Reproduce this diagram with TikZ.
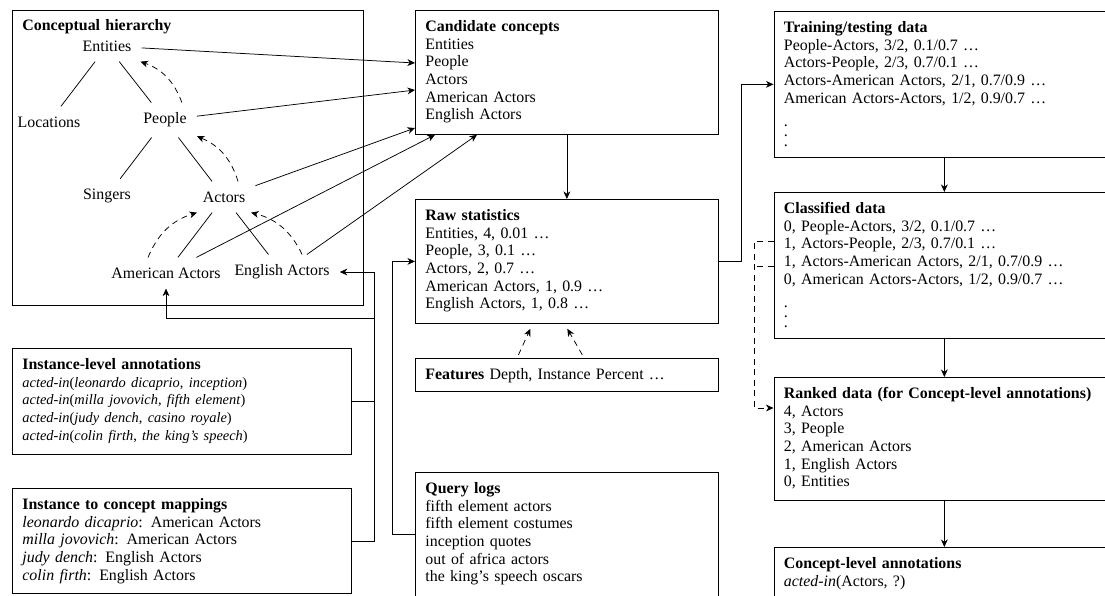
\documentclass[tikz,border=0pt]{standalone}
\usepackage{fontspec}
\setmainfont{Liberation Serif}
\usepackage{tikz}
\usetikzlibrary{arrows.meta,positioning,calc}
\tikzset{
  panel/.style={draw,anchor=north west,align=left,inner xsep=6.7pt,inner ysep=7pt,text height=7pt},
  midpanel/.style={panel,text width=188.6pt},
  leftpanel/.style={panel,text width=212.6pt},
  rightpanel/.style={panel,text width=213.9pt},
  concept/.style={inner sep=6.6pt},
  flow/.style={-{Stealth[length=5pt,width=4.5pt,inset=1.5pt]}},
  isaedge/.style={-{Stealth[length=5pt,width=4.5pt,inset=1.5pt]},dash pattern=on 4pt off 3pt},
  rankedge/.style={dash pattern=on 4pt off 3pt}
}
\newcommand{\vdotsrow}{\\[4pt].\\[-5.1pt].\\[-5.1pt].}

\begin{document}
\begin{tikzpicture}[x=0.6667pt,y=0.6667pt,line width=0.5pt,font=\fontsize{10.6pt}{11.8pt}\selectfont]
  \useasboundingbox (0,0) rectangle (1105,-595);
  % boxes
  \node[panel,text width=220.6pt,text depth=176pt] (hier) at (12,-9.5) {\textbf{Conceptual hierarchy}};
  \node[midpanel,text depth=61.7pt] (cand) at (415,-10) {\textbf{Candidate concepts}\\Entities\\People\\Actors\\American Actors\\English Actors};
  \node[midpanel,text depth=61.7pt] (raw) at (415,-199) {\textbf{Raw statistics}\\Entities, 4, 0.01 \ldots\\People, 3, 0.1 \ldots\\Actors, 2, 0.7 \ldots\\American Actors, 1, 0.9 \ldots\\English Actors, 1, 0.8 \ldots};
  \node[midpanel,text depth=1pt] (feat) at (415,-358) {\textbf{Features} Depth, Instance Percent \ldots};
  \node[midpanel,text depth=61.7pt] (query) at (415,-472) {\textbf{Query logs}\\fifth element actors\\fifth element costumes\\inception quotes\\out of africa actors\\the king's speech oscars};
  \node[leftpanel,text depth=49.7pt] (inst) at (12,-348) {\textbf{Instance-level annotations}\\\fontsize{9.6pt}{11.8pt}\selectfont
    \textit{acted-in}(\textit{leonardo dicaprio}, \textit{inception})\\
    \textit{acted-in}(\textit{milla jovovich}, \textit{fifth element})\\
    \textit{acted-in}(\textit{judy dench}, \textit{casino royale})\\
    \textit{acted-in}(\textit{colin firth}, \textit{the king's speech})};
  \node[leftpanel,text depth=49pt] (map) at (12,-488) {\textbf{Instance to concept mappings}\\
    \textit{leonardo dicaprio}: American Actors\\
    \textit{milla jovovich}: American Actors\\
    \textit{judy dench}: English Actors\\
    \textit{colin firth}: English Actors};
  \node[rightpanel,text depth=76.3pt] (train) at (773.5,-11) {\textbf{Training/testing data}\\People-Actors, 3/2, 0.1/0.7 \ldots\\Actors-People, 2/3, 0.7/0.1 \ldots\\Actors-American Actors, 2/1, 0.7/0.9 \ldots\\American Actors-Actors, 1/2, 0.9/0.7 \ldots\vdotsrow};
  \node[rightpanel,text depth=76.3pt] (class) at (773.5,-192) {\textbf{Classified data}\\0, People-Actors, 3/2, 0.1/0.7 \ldots\\1, Actors-People, 2/3, 0.7/0.1 \ldots\\1, Actors-American Actors, 2/1, 0.7/0.9 \ldots\\0, American Actors-Actors, 1/2, 0.9/0.7 \ldots\vdotsrow};
  \node[rightpanel,text depth=61pt] (rank) at (773.5,-377) {\textbf{Ranked data (for Concept-level annotations)}\\4, Actors\\3, People\\2, American Actors\\1, English Actors\\0, Entities};
  \node[rightpanel,text depth=30pt] (concept) at (773.5,-547) {\textbf{Concept-level annotations}\\\textit{acted-in}(Actors, ?)};
  % hierarchy
  \node[concept] (ent) at (107,-46) {Entities};
  \node[concept] (loc) at (49,-122) {Locations};
  \node[concept] (people) at (165,-120) {People};
  \node[concept] (singers) at (107,-196) {Singers};
  \node[concept] (actors) at (224,-197) {Actors};
  \node[concept] (amer) at (166,-273) {American Actors};
  \node[concept] (eng) at (282,-272) {English Actors};
  \draw (ent) -- (loc); \draw (ent) -- (people);
  \draw (people) -- (singers); \draw (people) -- (actors);
  \draw (actors) -- (amer); \draw (actors) -- (eng);
  \draw[isaedge] (people.46) to[bend right=25] (ent.-25);
  \draw[isaedge] (actors.48) to[bend right=25] (people.-27);
  \draw[isaedge] (amer.139) to[bend left=25] (actors.-150);
  \draw[isaedge] (eng.41) to[bend right=25] (actors.-30);
  % into candidates
  \draw[flow] (ent) -- ($(cand.north west)+(0,-53)$);
  \draw[flow] (people) -- ($(cand.north west)+(0,-80)$);
  \draw[flow] (actors) -- ($(cand.north west)+(0,-118)$);
  \draw[flow] (amer) -- ($(cand.south west)+(20,0)$);
  \draw[flow] (eng) -- ($(cand.south west)+(62,0)$);
  % pipeline
  \draw[flow] (cand) -- (raw);
  \draw[flow] (raw.east) -- ++(23,0) |- (train.west);
  \draw[flow] (train) -- (class);
  \draw[flow] (class) -- (rank);
  \draw[flow] (rank) -- (concept);
  \draw[flow] (query.west) -- ++(-23,0) |- (raw.west);
  \draw[isaedge] ($(feat.north)+(-48.5,3)$) -- ($(raw.south)+(-36.5,-5)$);
  \draw[isaedge] ($(feat.north)+(15.5,3)$) -- ($(raw.south)+(0.5,-5)$);
  \draw[rankedge,flow] ($(class.north west)+(0,-49)$) -- ++(-19,0) |- ($(rank.north west)+(0,-31)$);
  \draw[rankedge] ($(class.north west)+(0,-74)$) -- ++(-19,0);
  % annotations back to the hierarchy
  \coordinate (junc) at (374,-318);
  \draw[flow] (map.east) -- ++(23,0) |- (eng.east);
  \draw (inst.east) -- (inst.east -| junc);
  \draw[flow] (junc) -| (amer.south);
\end{tikzpicture}
\end{document}
